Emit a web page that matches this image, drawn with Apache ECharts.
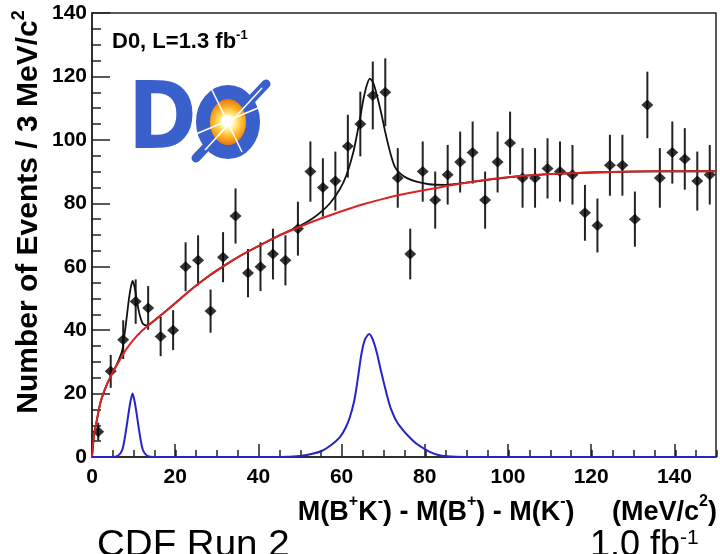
<!DOCTYPE html>
<html><head><meta charset="utf-8">
<script src="https://cdn.jsdelivr.net/npm/echarts@6/dist/echarts.min.js"></script>
<style>html,body{margin:0;padding:0;background:#fff}#c{width:720px;height:554px}</style>
</head><body><div id="c"></div>
<script>
// ---- data ----
const binCenters = [1.5, 4.5, 7.5, 10.5, 13.5, 16.5, 19.5, 22.5, 25.5, 28.5, 31.5, 34.5, 37.5, 40.5, 43.5, 46.5, 49.5, 52.5, 55.5, 58.5, 61.5, 64.5, 67.5, 70.5, 73.5, 76.5, 79.5, 82.5, 85.5, 88.5, 91.5, 94.5, 97.5, 100.5, 103.5, 106.5, 109.5, 112.5, 115.5, 118.5, 121.5, 124.5, 127.5, 130.5, 133.5, 136.5, 139.5, 142.5, 145.5, 148.5];
const counts = [8, 27, 37, 49, 47, 38, 40, 60, 62, 46, 63, 76, 58, 60, 64, 62, 72, 90, 85, 87, 98, 105, 114, 115, 88, 64, 90, 81, 89, 93, 96, 81, 93, 99, 88, 88, 91, 90, 89, 77, 73, 92, 92, 75, 111, 88, 96, 94, 87, 89];
const errors = [2.8, 5.2, 6.1, 7.0, 6.9, 6.2, 6.3, 7.7, 7.9, 6.8, 7.9, 8.7, 7.6, 7.7, 8.0, 7.9, 8.5, 9.5, 9.2, 9.3, 9.9, 10.2, 10.7, 10.7, 9.4, 8.0, 9.5, 9.0, 9.4, 9.6, 9.8, 9.0, 9.6, 9.9, 9.4, 9.4, 9.5, 9.5, 9.4, 8.8, 8.5, 9.6, 9.6, 8.7, 10.5, 9.4, 9.8, 9.7, 9.3, 9.4];

const bkgX = [0, 0.5, 1, 2, 3, 4.5, 6, 8, 10, 12, 14, 17, 20, 24, 28, 32, 36, 40, 45, 50, 55, 60, 65, 70, 75, 80, 90, 100, 110, 120, 130, 140, 150];
const bkgY = [0, 7, 10.5, 17, 21, 25.5, 29, 33.5, 37, 39.8, 42, 45.2, 48.5, 53, 57, 60.5, 63.7, 66.5, 69.8, 72.6, 75.2, 77.5, 79.6, 81.4, 82.9, 84.2, 86.5, 88.2, 89.2, 89.7, 90, 90.1, 90.1];

const totX = [0, 0.5, 1, 2, 3, 4.5, 6, 7.25, 7.75, 8.25, 8.75, 9.25, 9.75, 10.25, 10.75, 11.25, 11.75, 12.25, 13.25, 14, 17, 20, 24, 28, 32, 36, 40, 45, 50, 53, 55, 57.2, 59.6, 61.2, 62.8, 63.6, 64.4, 65.2, 66, 66.8, 67.6, 68.5, 69.6, 70.4, 71.2, 72, 72.8, 74, 75.6, 78, 81, 85, 90, 100, 110, 120, 130, 140, 150];
const totY = [0, 7, 10.5, 17, 21, 25.5, 29.3, 33.5, 38, 43, 48.5, 53, 55.5, 53.5, 49.5, 46, 43.5, 42, 41.5, 42, 45.2, 48.5, 53, 57, 60.5, 63.7, 66.5, 69.9, 72.9, 75.2, 77.2, 80, 84.5, 89, 96, 101, 106.5, 112.5, 117, 119.3, 118, 114, 108, 103, 98.5, 94.5, 91.5, 89.5, 88, 86.8, 86, 85.8, 86.5, 88.2, 89.2, 89.7, 90, 90.1, 90.1];

const sigX = [0, 4.5, 6.25, 7.25, 7.75, 8.25, 8.75, 9.25, 9.75, 10.25, 10.75, 11.25, 11.75, 12.25, 13.25, 15, 45, 50, 53, 55.2, 57.5, 59.6, 61, 62, 63, 63.6, 64.2, 64.8, 65.6, 66.6, 67.5, 68.5, 69.4, 70.4, 71.2, 72, 73.3, 74.8, 76.5, 78, 80, 81.2, 83, 85.2, 90, 150];
const sigY = [0, 0, 0.4, 2.2, 5, 9, 13.5, 17.5, 20, 17.5, 13.5, 9, 5, 2.2, 0.4, 0, 0, 0.3, 1, 1.9, 3.8, 6.3, 9.3, 12.6, 17.5, 22.1, 27.5, 32.7, 37, 38.8, 37, 32.7, 27.5, 22.1, 18, 14.7, 11, 8.4, 6, 4.2, 2.5, 1.6, 0.7, 0.2, 0, 0];

const xTicks = [0, 20, 40, 60, 80, 100, 120, 140];
const yTicks = [0, 20, 40, 60, 80, 100, 120, 140];

// ---- build ----
const FONT = "'Liberation Sans', Arial, Helvetica, sans-serif";
const zip = (xs, ys) => xs.map((x, i) => [x, ys[i]]);
const points = binCenters.map((x, i) => [x, counts[i]]);
const bars = binCenters.map((x, i) => [x, counts[i] - errors[i], counts[i] + errors[i]]);
const AX = '#222';

const chart = echarts.init(document.getElementById('c'));
chart.setOption({
  animation: false,
  backgroundColor: '#fff',
  grid: [
    { left: 92, right: 3, top: 13, bottom: 97, show: true, borderColor: AX, borderWidth: 1.5 },
    { left: 92, right: 3, top: 13, bottom: 97 }
  ],
  xAxis: [
    {
      type: 'value', gridIndex: 0, min: xTicks[0], max: 150, interval: 20,
      axisLine: { show: true, onZero: false, lineStyle: { color: AX, width: 1.5 } },
      axisTick: { show: true, inside: true, length: 13, lineStyle: { color: AX, width: 1.5 } },
      axisLabel: { showMaxLabel: false, margin: 10, color: '#000', fontSize: 21, fontWeight: 'bold', fontFamily: FONT },
      splitLine: { show: false },
      name: '{b|M(B}{s|+}{b|K}{s|-}{b|) - M(B}{s|+}{b|) - M(K}{s|-}{b|)     (MeV/c}{s|2}{b|)}',
      nameLocation: 'end', nameGap: 1, nameMoveOverlap: false,
      nameTextStyle: {
        align: 'right', verticalAlign: 'top', padding: [37, 0, 0, 0],
        rich: {
          b: { fontSize: 27, fontWeight: 'bold', fontFamily: FONT, color: '#000', lineHeight: 32, verticalAlign: 'bottom' },
          s: { fontSize: 16, fontWeight: 'bold', fontFamily: FONT, color: '#000', lineHeight: 17, verticalAlign: 'top' }
        }
      }
    },
    {
      type: 'value', gridIndex: 1, min: 0, max: 150, interval: 5,
      axisLine: { show: false },
      axisTick: { show: true, inside: true, length: 7, lineStyle: { color: AX, width: 1.5 } },
      axisLabel: { show: false }, splitLine: { show: false }
    }
  ],
  yAxis: [
    {
      type: 'value', gridIndex: 0, min: yTicks[0], max: yTicks[yTicks.length - 1], interval: 20,
      axisLine: { show: true, onZero: false, lineStyle: { color: AX, width: 1.5 } },
      axisTick: { show: true, inside: true, length: 18, lineStyle: { color: AX, width: 1.5 } },
      minorTick: { show: true, splitNumber: 4, length: 9, lineStyle: { color: AX, width: 1.5 } },
      axisLabel: { margin: 5, color: '#000', fontSize: 21, fontWeight: 'bold', fontFamily: FONT },
      splitLine: { show: false }, minorSplitLine: { show: false },
      name: '{b|Number of Events / 3 MeV/c}{s|2}',
      nameLocation: 'middle', nameGap: 48, nameMoveOverlap: false,
      nameTextStyle: {
        padding: [0, 0, 0, 46],
        rich: {
          b: { fontSize: 30, fontWeight: 'bold', fontFamily: FONT, color: '#000', lineHeight: 34, verticalAlign: 'bottom' },
          s: { fontSize: 18, fontWeight: 'bold', fontFamily: FONT, color: '#000', lineHeight: 19, verticalAlign: 'top' }
        }
      }
    },
    { type: 'value', gridIndex: 1, min: 0, max: 140, show: false }
  ],
  series: [
    {
      type: 'custom', name: 'errors', xAxisIndex: 0, yAxisIndex: 0, data: bars, z: 2,
      encode: { x: 0, y: [1, 2] },
      renderItem: (params, api) => {
        const x = api.value(0);
        const p1 = api.coord([x, api.value(1)]);
        const p2 = api.coord([x, api.value(2)]);
        return { type: 'line', shape: { x1: p1[0], y1: p1[1], x2: p2[0], y2: p2[1] }, style: { stroke: '#222', lineWidth: 2 } };
      }
    },
    {
      type: 'scatter', name: 'data', xAxisIndex: 0, yAxisIndex: 0, data: points, z: 3,
      symbol: 'diamond', symbolSize: [12, 11], itemStyle: { color: '#000' }
    },
    {
      type: 'line', name: 'total', data: zip(totX, totY), showSymbol: false, smooth: 0.25, z: 4,
      lineStyle: { color: '#111', width: 1.8 }
    },
    {
      type: 'line', name: 'background', data: zip(bkgX, bkgY), showSymbol: false, smooth: 0.25, z: 5,
      lineStyle: { color: '#dd2222', width: 2 }
    },
    {
      type: 'line', name: 'signal', data: zip(sigX, sigY), showSymbol: false, smooth: 0.25, z: 5,
      lineStyle: { color: '#2424c8', width: 2 }
    }
  ],
  graphic: [
    // D0 logo (approximation)
    { type: 'line', z: 10, shape: { x1: 196, y1: 158, x2: 266, y2: 84 }, style: { stroke: '#3a60cc', lineWidth: 9, lineCap: 'round' } },
    { type: 'text', z: 10, x: 128, y: 78, scaleX: 0.9, style: { text: 'D', fontSize: 92, fontWeight: 'bold', fontFamily: "'DejaVu Sans'", fill: '#3a60cc' } },
    { type: 'ellipse', z: 11, shape: { cx: 228, cy: 122, rx: 25, ry: 30 },
      style: { stroke: '#3a60cc', lineWidth: 14,
        fill: { type: 'radial', x: 0.5, y: 0.5, r: 0.6, colorStops: [
          { offset: 0, color: '#ffffff' }, { offset: 0.18, color: '#fff6a0' }, { offset: 0.4, color: '#ffb020' },
          { offset: 0.7, color: '#d85a10' }, { offset: 1, color: '#7a2a10' }] } } },
    { type: 'line', z: 12, shape: { x1: 196, y1: 134, x2: 258, y2: 108 }, style: { stroke: '#fff', lineWidth: 1.5 } },
    { type: 'line', z: 12, shape: { x1: 212, y1: 90, x2: 242, y2: 152 }, style: { stroke: '#fff', lineWidth: 1.5 } },
    { type: 'line', z: 12, shape: { x1: 205, y1: 150, x2: 262, y2: 88 }, style: { stroke: '#fff', lineWidth: 1.5 } },
    { type: 'circle', z: 12, shape: { cx: 227, cy: 121, r: 6 }, style: { fill: '#fff' } },
    // luminosity label
    { type: 'text', z: 10, x: 112, y: 29, style: {
        text: '{a|D0, L=1.3 fb}{s|-1}',
        rich: {
          a: { fontSize: 22, fontWeight: 'bold', fontFamily: FONT, fill: '#000', lineHeight: 24, verticalAlign: 'bottom' },
          s: { fontSize: 13, fontWeight: 'bold', fontFamily: FONT, fill: '#000', lineHeight: 14, verticalAlign: 'top' }
        } } },
    // bottom captions
    { type: 'text', z: 10, x: 97, y: 528, scaleX: 1.07, style: { text: 'CDF Run 2', fontSize: 36, fontFamily: FONT, fill: '#000' } },
    { type: 'text', z: 10, x: 590, y: 528, style: {
        text: '{a|1.0 fb}{s|-1}',
        rich: {
          a: { fontSize: 36, fontFamily: FONT, fill: '#000', lineHeight: 36, verticalAlign: 'bottom' },
          s: { fontSize: 21, fontFamily: FONT, fill: '#000', lineHeight: 22, verticalAlign: 'top' }
        } } }
  ]
});
</script></body></html>
